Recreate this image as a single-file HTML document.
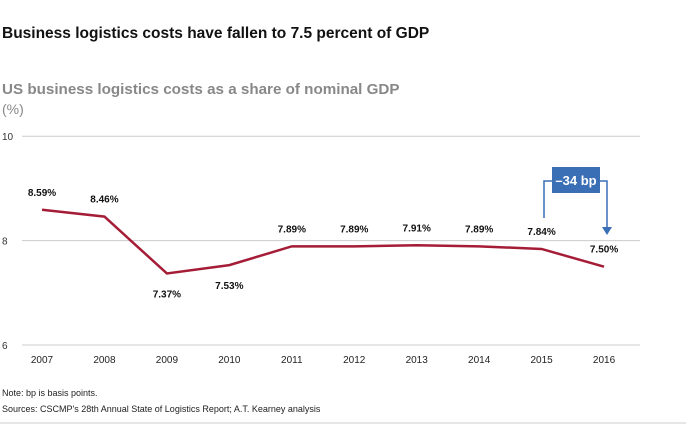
<!DOCTYPE html>
<html><head><meta charset="utf-8"><style>
body{margin:0;background:#fff;font-family:"Liberation Sans",sans-serif;}
svg text{font-family:"Liberation Sans",sans-serif;}
</style></head><body>
<svg width="686" height="426">
<text x="2" y="38" font-size="15.5" font-weight="bold" fill="#111">Business logistics costs have fallen to 7.5 percent of GDP</text>
<text x="2" y="94" font-size="15.2" font-weight="bold" fill="#888">US business logistics costs as a share of nominal GDP</text>
<text x="2" y="114" font-size="14" fill="#888">(%)</text>
<g id="grid"></g>
<g id="xlabels"></g>
<polyline id="line" fill="none" stroke="#a51c36" stroke-width="2.5"/>
<g id="vlabels"></g>
<g>
<polyline points="544,218 544,181 552,181" fill="none" stroke="#3a6fb5" stroke-width="1.5"/>
<polyline points="600,181 607,181 607,228" fill="none" stroke="#3a6fb5" stroke-width="1.5"/>
<polygon points="602,227 612,227 607,235" fill="#3a6fb5"/>
<rect x="552" y="167" width="48" height="26" fill="#3a6fb5"/>
<text x="576" y="185" font-size="13" font-weight="bold" fill="#fff" text-anchor="middle">–34 bp</text>
</g>
<text x="2" y="396" font-size="9" fill="#222">Note: bp is basis points.</text>
<text x="2" y="412" font-size="9" fill="#222">Sources: CSCMP's 28th Annual State of Logistics Report; A.T. Kearney analysis</text>
<line x1="0" y1="423" x2="686" y2="423" stroke="#ccc" stroke-width="1"/>
</svg>
<script>
const years=["2007","2008","2009","2010","2011","2012","2013","2014","2015","2016"];
const values=[8.59,8.46,7.37,7.53,7.89,7.89,7.91,7.89,7.84,7.50];
const labels=["8.59%","8.46%","7.37%","7.53%","7.89%","7.89%","7.91%","7.89%","7.84%","7.50%"];
const labelAbove=[true,true,false,false,true,true,true,true,true,true];
const yTicks=[6,8,10];
const ns="http://www.w3.org/2000/svg";
const x=i=>42+i*62.45;
const y=v=>345-(v-6)*52.2;
function mk(t,a,p,txt){const e=document.createElementNS(ns,t);for(const k in a)e.setAttribute(k,a[k]);if(txt!==undefined)e.textContent=txt;p.appendChild(e);return e;}
const g=document.getElementById('grid');
yTicks.forEach(t=>{
 const l=mk('line',{x1:22,x2:640,y1:y(t),y2:y(t),stroke:'#ccc','stroke-width':1},g);
 
 
 const tx=mk('text',{x:2,y:y(t)+4,'font-size':10,fill:'#333'},g,String(t));
 
 
});
const xl=document.getElementById('xlabels');
years.forEach((yr,i)=>{
 const t=mk('text',{x:x(i),y:363,'font-size':10,fill:'#222','text-anchor':'middle'},xl,yr);
 
 
});
document.getElementById('line').setAttribute('points',values.map((v,i)=>x(i)+','+y(v)).join(' '));
const vl=document.getElementById('vlabels');
values.forEach((v,i)=>{
 const ty=labelAbove[i]?y(v)-14:y(v)+24;
 const t=mk('text',{x:x(i),y:ty,'font-size':10,'font-weight':'bold',fill:'#111','text-anchor':'middle'},vl,labels[i]);
 
 
});
</script>
</body></html>
